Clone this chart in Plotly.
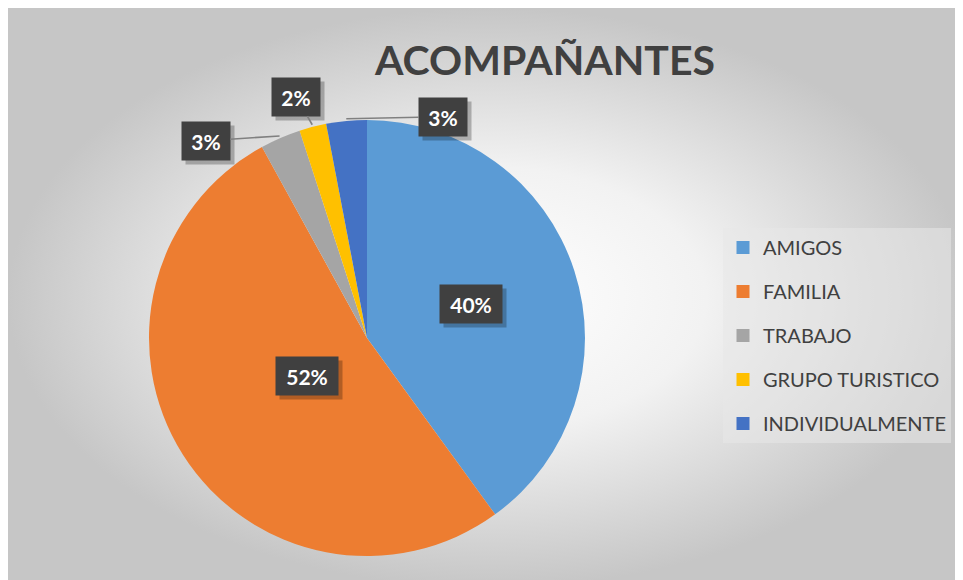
import numpy as np
import plotly.graph_objects as go

categorias = ["AMIGOS", "FAMILIA", "TRABAJO", "GRUPO TURISTICO", "INDIVIDUALMENTE"]
porcentajes = [40, 52, 3, 2, 3]
colores = ["#5B9BD5", "#ED7D31", "#A5A5A5", "#FFC000", "#4472C4"]
etiquetas = [f"{p}%" for p in porcentajes]

W, H = 963, 580
OFF = 8  # page margin around the figure

def xp(x):
    return (x - OFF) / W

def yp(y):
    return 1 - (y - OFF) / H

# pie geometry (screen pixels)
cx, cy, R = 367, 338, 218
dom_x = [xp(cx - R), xp(cx + R)]
dom_y = [yp(cy + R), yp(cy - R)]

# label placement: inside at half radius, outside with leader lines (pixel offsets)
pos_label = ["inside", "inside", "outside", "outside", "outside"]
offsets = [None, None, (-74, 5), (-16, -28), (97, -2)]

fig = go.Figure()

# gradient background
fig.add_trace(go.Scatter(
    x=[0, 1, 1, 0, 0], y=[0, 0, 1, 1, 0], mode="lines", fill="toself",
    line=dict(width=0), hoverinfo="skip", showlegend=False,
    fillgradient=dict(type="radial", colorscale=[[0, "#ffffff"], [0.45, "#f2f2f2"], [1, "#c6c6c6"]]),
))

fig.add_trace(go.Pie(
    labels=categorias, values=porcentajes, sort=False, direction="clockwise",
    marker=dict(colors=colores, line=dict(width=0)),
    textinfo="none", showlegend=False, domain=dict(x=dom_x, y=dom_y),
))

# legend entries
for nombre, col in zip(categorias, colores):
    fig.add_trace(go.Scatter(
        x=[None], y=[None], mode="markers", name=nombre, legendgroup=nombre,
        marker=dict(symbol="square", size=13, color=col),
    ))

# data labels
total = sum(porcentajes)
acum = np.cumsum([0] + porcentajes[:-1])
anots = []
fuente = dict(color="white", size=21, family="Lato")
for p, a, txt, modo, off in zip(porcentajes, acum, etiquetas, pos_label, offsets):
    frac = (a + p / 2) / total
    ang = np.pi / 2 - 2 * np.pi * frac
    ancho = 14 * len(txt) + 20
    if modo == "inside":
        px, py = cx + 0.5 * R * np.cos(ang), cy - 0.5 * R * np.sin(ang)
        base = dict(x=xp(px), y=yp(py), xref="paper", yref="paper", showarrow=False,
                    width=ancho, height=38, borderpad=0)
        anots.append(dict(base, text=" ", bgcolor="rgba(0,0,0,0.25)", xshift=4, yshift=-4))
        anots.append(dict(base, text=f"<b>{txt}</b>", font=fuente, bgcolor="#404040"))
    else:
        px, py = cx + 1.01 * R * np.cos(ang), cy - 1.01 * R * np.sin(ang)
        base = dict(x=xp(px), y=yp(py), xref="paper", yref="paper", width=ancho, height=38,
                    borderpad=0, ax=off[0], ay=off[1])
        anots.append(dict(base, text=" ", showarrow=True, arrowhead=0, arrowwidth=1.5,
                          arrowcolor="rgba(0,0,0,0)", bgcolor="rgba(0,0,0,0.25)", xshift=4, yshift=-4))
        anots.append(dict(base, text=f"<b>{txt}</b>", showarrow=True, arrowhead=0, arrowwidth=1.6,
                          arrowcolor="#808080", font=fuente, bgcolor="#404040"))

fig.update_layout(
    width=W, height=H,
    margin=dict(l=0, r=0, t=0, b=0),
    paper_bgcolor="white", plot_bgcolor="rgba(0,0,0,0)",
    xaxis=dict(visible=False, range=[0, 1], domain=[0, 1], fixedrange=True),
    yaxis=dict(visible=False, range=[0, 1], domain=[0, 1], fixedrange=True),
    title=dict(text="<b>ACOMPAÑANTES</b>", x=xp(545), xanchor="center", y=yp(61), yanchor="middle",
               font=dict(family="Lato", size=41, color="#404040")),
    legend=dict(x=xp(723), y=yp(228), xanchor="left", yanchor="top",
                bgcolor="rgba(232,232,232,0.55)", font=dict(family="Lato", size=20, color="#404040"),
                tracegroupgap=15, itemsizing="trace", itemwidth=30),
    annotations=anots,
    font=dict(family="Lato"),
)

fig.write_html("out.html")
